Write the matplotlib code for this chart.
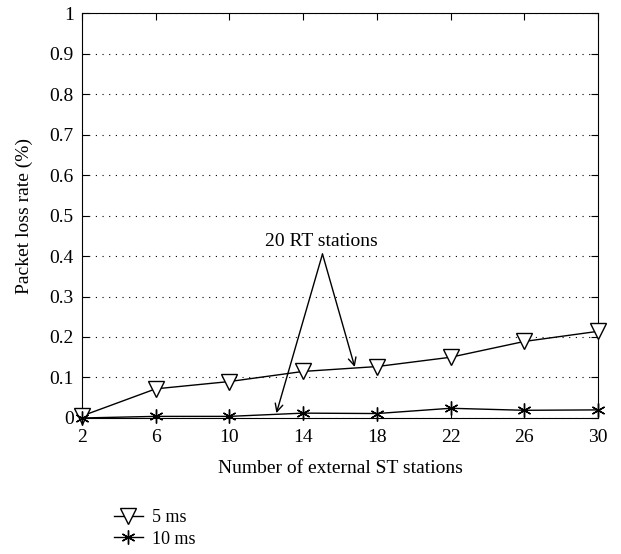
"""Packet loss rate vs number of external ST stations."""

import matplotlib

matplotlib.use("Agg")
import matplotlib.pyplot as plt

plt.rcParams["font.family"] = ["Liberation Serif", "DejaVu Serif"]
plt.rcParams["font.size"] = 14

stations = [2, 6, 10, 14, 18, 22, 26, 30]
loss_5ms = [0.005, 0.072, 0.090, 0.115, 0.127, 0.150, 0.189, 0.214]
loss_10ms = [0.0, 0.004, 0.004, 0.012, 0.011, 0.024, 0.019, 0.020]
y_ticks = [0, 0.1, 0.2, 0.3, 0.4, 0.5, 0.6, 0.7, 0.8, 0.9, 1]
y_tick_labels = ["0", "0.1", "0.2", "0.3", "0.4", "0.5", "0.6", "0.7", "0.8", "0.9", "1"]

fig = plt.figure(figsize=(6.21, 5.54), dpi=100)
ax = fig.add_axes([0.132, 0.2455, 0.831, 0.731])

ax.plot(stations, loss_5ms, color="black", linewidth=1, marker="v", markersize=11,
        markerfacecolor="white", markeredgecolor="black", markeredgewidth=1,
        label="5 ms", clip_on=False, zorder=3)
ax.plot(stations, loss_10ms, color="black", linewidth=1, marker=(6, 2, 0), markersize=10,
        markeredgewidth=1, label="10 ms", clip_on=False, zorder=3)

ax.set_xlim(2, 30)
ax.set_ylim(0, 1)
ax.set_xticks(stations)
ax.set_yticks(y_ticks)
ax.set_yticklabels(y_tick_labels)
ax.grid(axis="y", linestyle=(0, (1, 5)), color="black", linewidth=0.8)
ax.tick_params(direction="in", top=True, right=True, length=5, width=0.8)
ax.tick_params(axis="x", pad=8)
ax.tick_params(axis="y", pad=6)
for spine in ax.spines.values():
    spine.set_linewidth(0.8)

ax.set_xlabel("Number of external ST stations", labelpad=10)
ax.set_ylabel("Packet loss rate (%)", labelpad=12)

# annotation with two arrows from a common apex
apex = (15.05, 0.405)
ax.text(15.0, 0.415, "20 RT stations", ha="center", va="bottom")
for target in [(12.55, 0.012), (16.8, 0.126)]:
    ax.annotate("", xy=target, xytext=apex,
                arrowprops=dict(arrowstyle="->", color="black", linewidth=1,
                                mutation_scale=14, shrinkA=0, shrinkB=0))

fig.legend(loc="lower left", bbox_to_anchor=(0.157, -0.018), frameon=False,
           handlelength=1.6, handletextpad=0.5, labelspacing=0.25, fontsize=13)

fig.savefig("out.png", dpi=100)
